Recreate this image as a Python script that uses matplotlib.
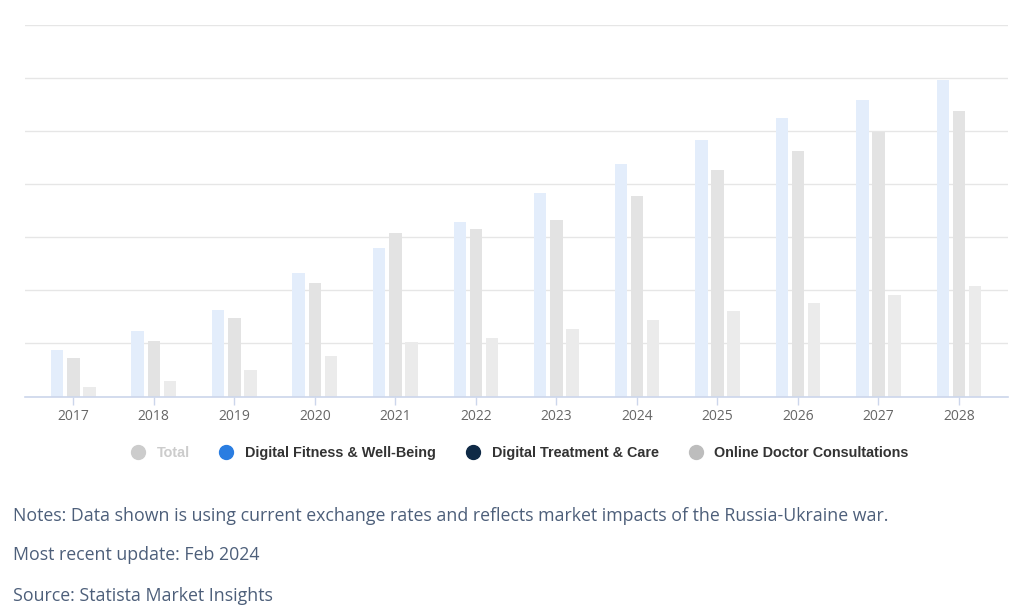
import matplotlib.pyplot as plt
import numpy as np
from matplotlib.lines import Line2D

years = [2017, 2018, 2019, 2020, 2021, 2022, 2023, 2024, 2025, 2026, 2027, 2028]
fitness = [8.8, 12.3, 16.3, 23.3, 27.9, 32.8, 38.4, 43.9, 48.3, 52.4, 55.9, 59.7]
treatment = [7.3, 10.5, 14.8, 21.4, 30.9, 31.6, 33.3, 37.7, 42.6, 46.3, 49.9, 53.8]
consult = [1.8, 3.0, 4.9, 7.6, 10.2, 11.1, 12.8, 14.5, 16.2, 17.7, 19.2, 20.9]

legend_names = ['Total', 'Digital Fitness & Well-Being', 'Digital Treatment & Care',
                'Online Doctor Consultations']
legend_colors = ['#cccccc', '#2a7de1', '#0f2a46', '#bdbdbd']

fig = plt.figure(figsize=(10.24, 6.16), dpi=100)
ax = fig.add_axes([25 / 1024, 1 - 396.5 / 616, 983 / 1024, 371.5 / 616])

x = np.array(years)
w = 0.155
ax.bar(x - 0.2, fitness, width=w, color='#e3edfb', zorder=2)
ax.bar(x, treatment, width=w, color='#e3e3e3', zorder=2)
ax.bar(x + 0.2, consult, width=w, color='#ebebeb', zorder=2)

ax.set_xlim(2016.40, 2028.61)
ax.set_ylim(0, 70)
ax.set_yticks(np.arange(0, 71, 10))
ax.yaxis.grid(True, color='#e6e6e6', linewidth=1, zorder=0)
ax.tick_params(axis='y', left=False, labelleft=False)
ax.set_xticks(years)
ax.set_xticklabels([str(y) for y in years], fontfamily='Open Sans', fontsize=10, color='#666666')
ax.tick_params(axis='x', length=6, width=1, color='#ccd6eb', pad=3)
for s in ['top', 'right', 'left']:
    ax.spines[s].set_visible(False)
ax.spines['bottom'].set_color('#ccd6eb')
ax.spines['bottom'].set_linewidth(1.2)

# legend
handles = [Line2D([], [], marker='o', linestyle='none', markersize=10, color=c) for c in legend_colors]
leg = fig.legend(handles, legend_names, loc='center', bbox_to_anchor=(516 / 1024, 1 - 453 / 616),
                 ncol=4, frameon=False, handletextpad=0.3, columnspacing=1.55,
                 prop={'family': 'Liberation Sans', 'weight': 'bold', 'size': 10.4})
for i, t in enumerate(leg.get_texts()):
    t.set_color('#cccccc' if i == 0 else '#333333')

note_color = '#4d5f7a'
fig.text(13 / 1024, 1 - 516 / 616, 'Notes: Data shown is using current exchange rates and reflects market impacts of the Russia-Ukraine war.',
         fontfamily='Open Sans', fontsize=12.8, color=note_color, va='center')
fig.text(13 / 1024, 1 - 555 / 616, 'Most recent update: Feb 2024',
         fontfamily='Open Sans', fontsize=12.8, color=note_color, va='center')
fig.text(13 / 1024, 1 - 596 / 616, 'Source: Statista Market Insights',
         fontfamily='Open Sans', fontsize=12.8, color=note_color, va='center')

fig.savefig('out.png', dpi=100)
